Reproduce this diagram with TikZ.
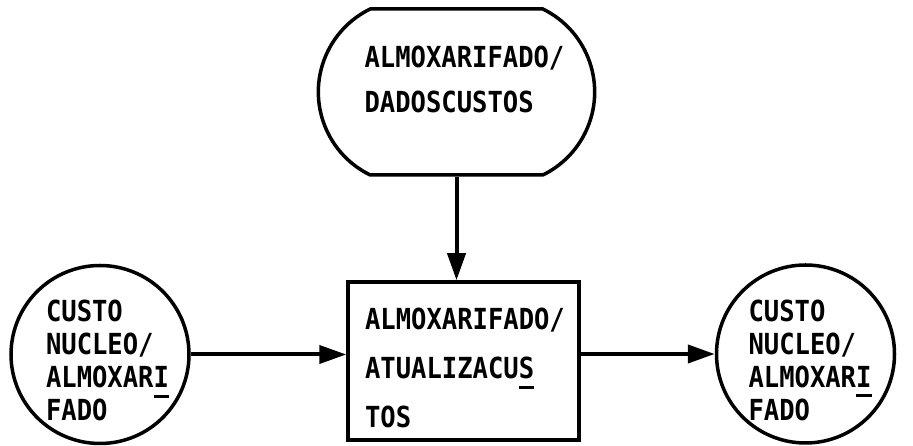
\documentclass[tikz,border=0pt]{standalone}
\usepackage{fontspec}
\setmonofont{DejaVu Sans Mono}[FakeStretch=0.88]
\usepackage{tikz}
\usetikzlibrary{positioning,arrows.meta,shapes.misc}

\newcommand{\sublinha}[1]{\makebox[0pt][l]{\rule[-10pt]{15.4pt}{3pt}}#1}

\begin{document}
\begin{tikzpicture}[x=1pt,y=1pt,
	store/.style={rounded rectangle,rounded rectangle arc length=128,draw,line width=3.5pt,minimum width=283pt,minimum height=166pt},
	proc/.style={rectangle,draw,line width=3.5pt,minimum width=231pt,minimum height=158pt},
	circ/.style={circle,draw,line width=3.5pt,minimum size=178pt,inner sep=0pt},
	txt/.style={align=left,inner sep=0pt,font=\fontsize{29pt}{#1}\selectfont\ttfamily\bfseries},
	flow/.style={line width=4pt,-{Triangle[length=27pt,width=18pt]}}]

	\useasboundingbox (0,0) rectangle (913,446);

	%top node
	\node[store] (dados) at (456.5,354) {};
	\node[txt=45pt,xshift=8pt,yshift=12.5pt] (dadostxt) at (dados) {ALMOXARIFADO/\\DADOSCUSTOS};

	%process box
	\node[proc] (proc) at (463.5,85) {};
	\node[txt=49pt,xshift=1.5pt,yshift=-7pt] (proctxt) at (proc) {ALMOXARIFADO/\\ATUALIZACU\sublinha{S}\\TOS};

	%left and right circles
	\node[circ] (in) at (100,91.5) {};
	\node[txt=33pt,xshift=7.5pt,yshift=-6pt] (intxt) at (in) {CUSTO\\NUCLEO/\\ALMOXAR\sublinha{I}\\FADO};
	\node[circ] (out) at (805.5,92) {};
	\node[txt=33pt,xshift=4.5pt,yshift=-6pt] (outtxt) at (out) {CUSTO\\NUCLEO/\\ALMOXAR\sublinha{I}\\FADO};

	%flows
	\draw[flow] (dados) -- (dados |- proc.north);
	\draw[flow] (in) -- (in -| proc.west);
	\draw[flow] (out -| proc.east) -- (out);

\end{tikzpicture}
\end{document}
